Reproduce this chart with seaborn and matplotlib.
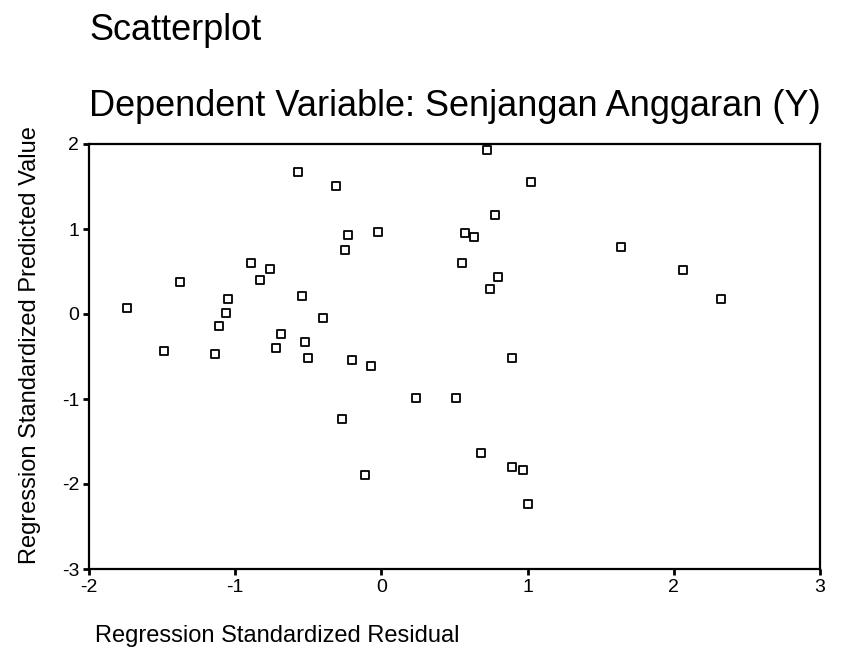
import matplotlib
matplotlib.use("Agg")
import matplotlib.pyplot as plt
import seaborn as sns
import pandas as pd

sns.set_style("ticks")
plt.rcParams['font.family'] = ['Liberation Sans', 'DejaVu Sans']
plt.rcParams['axes.unicode_minus'] = False
plt.rcParams['text.color'] = 'black'
plt.rcParams['xtick.color'] = 'black'
plt.rcParams['ytick.color'] = 'black'

# Regression standardized residual (x) vs standardized predicted value (y)
residual = [-0.57, 0.72, -0.31, 1.02, 0.78,
            -0.23, -0.02, -0.25, 0.57, 0.63, 1.64,
            -0.89, -0.76, -0.83, -1.38, 0.55, 0.80, 0.74,
            2.06, 2.32, -1.74, -1.05, -1.06, -1.11,
            -0.54, -0.40, -1.49, -1.14, -0.72, -0.69, -0.52, -0.50,
            -0.20, -0.07, 0.89, 0.24, 0.51, -0.27,
            0.68, 0.89, 0.97, 1.00, -0.11]
predicted = [1.67, 1.93, 1.51, 1.55, 1.16,
             0.93, 0.96, 0.75, 0.95, 0.91, 0.79,
             0.60, 0.53, 0.40, 0.38, 0.60, 0.43, 0.29,
             0.52, 0.18, 0.07, 0.18, 0.01, -0.14,
             0.21, -0.05, -0.44, -0.47, -0.40, -0.23, -0.33, -0.52,
             -0.54, -0.61, -0.52, -0.99, -0.99, -1.23,
             -1.64, -1.80, -1.84, -2.23, -1.89]

x_ticks = [-2, -1, 0, 1, 2, 3]
y_ticks = [-3, -2, -1, 0, 1, 2]

df = pd.DataFrame({"residual": residual, "predicted": predicted})

fig = plt.figure(figsize=(8.43, 6.68), dpi=100)
ax = fig.add_axes([89 / 843, 1 - 569 / 668, (820 - 89) / 843, (569 - 144) / 668])

sns.scatterplot(data=df, x="residual", y="predicted", ax=ax, marker="s", s=40,
                facecolor="white", edgecolor="black", linewidth=1.3)

ax.set_xlim(-2, 3)
ax.set_ylim(-3, 2)
ax.set_xticks(x_ticks)
ax.set_yticks(y_ticks)
ax.tick_params(axis="both", labelsize=14, length=4, width=2, direction="out", pad=3)
for side in ["left", "bottom", "top", "right"]:
    ax.spines[side].set_visible(True)
    ax.spines[side].set_linewidth(1.6)
    ax.spines[side].set_color("black")
ax.set_xlabel("")
ax.set_ylabel("")

# titles and axis labels placed like the SPSS output
fig.text(89 / 843, 1 - 30 / 668, "Scatterplot", fontsize=26, va="center", ha="left")
fig.text(89 / 843, 1 - 107 / 668, "Dependent Variable: Senjangan Anggaran (Y)",
         fontsize=26, va="center", ha="left")
fig.text(95 / 843, 1 - 636 / 668, "Regression Standardized Residual",
         fontsize=17, va="center", ha="left")
fig.text(30 / 843, 1 - 345 / 668, "Regression Standardized Predicted Value",
         fontsize=17, va="center", ha="center", rotation=90)

fig.savefig("out.png", dpi=100)
